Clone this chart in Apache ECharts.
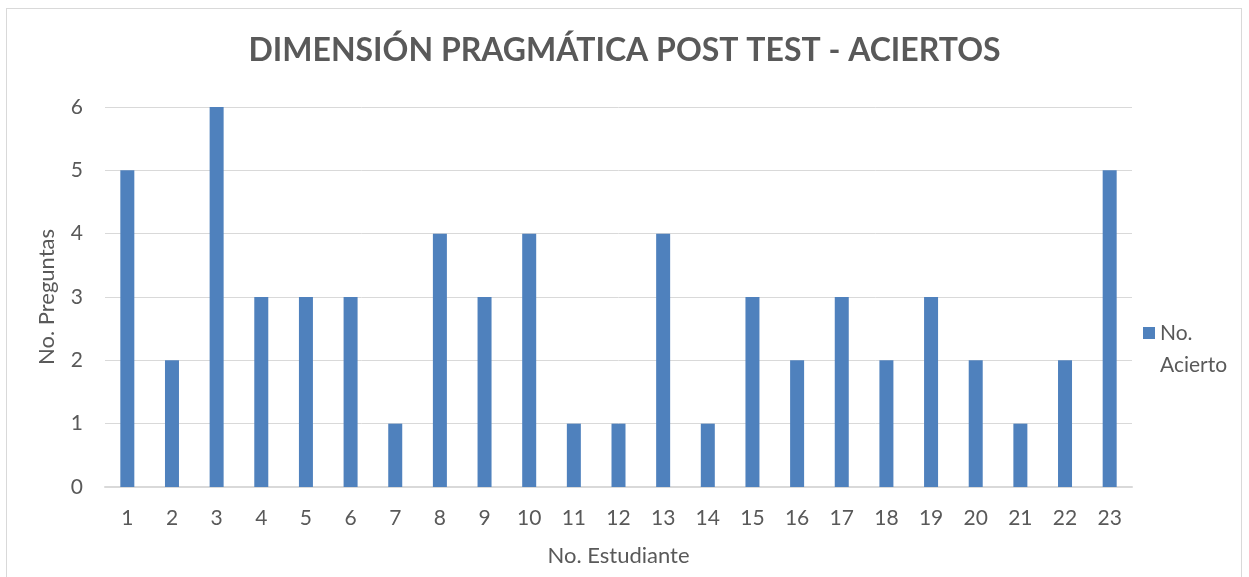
<!DOCTYPE html>
<html>
<head>
<meta charset="utf-8">
<script src="https://cdn.jsdelivr.net/npm/echarts@6/dist/echarts.min.js"></script>
<style>
  html, body { margin: 0; padding: 0; background: #fff; }
  #chart { width: 1249px; height: 577px; }
  .frame { position: absolute; left: 6px; top: 8px; width: 1236px; height: 600px; border: 1px solid #d9d9d9; box-sizing: border-box; pointer-events: none; }
</style>
</head>
<body>
<div id="chart"></div>
<div class="frame"></div>
<script>
const students = ['1', '2', '3', '4', '5', '6', '7', '8', '9', '10', '11', '12', '13', '14', '15', '16', '17', '18', '19', '20', '21', '22', '23']
const aciertos = [5, 2, 6, 3, 3, 3, 1, 4, 3, 4, 1, 1, 4, 1, 3, 2, 3, 2, 3, 2, 1, 2, 5]
const seriesName = 'No.\nAcierto'

const chart = echarts.init(document.getElementById('chart'))
const font = 'Lato, "Open Sans", sans-serif'
chart.setOption({
    animation: false,
    title: {
        text: 'DIMENSIÓN PRAGMÁTICA POST TEST - ACIERTOS',
        left: 'center',
        top: 30,
        textStyle: { fontFamily: font, fontSize: 32, fontWeight: 'bold', color: '#595959' },
    },
    // square drawn at the top of a taller (empty) icon box so it lines up with "No."
    legend: {
        data: [seriesName],
        left: 1138,
        top: 312,
        icon: 'path://M0,0H12V12H0Z M0,44L0.01,44',
        itemWidth: 12,
        itemHeight: 44,
        itemGap: 6,
        textStyle: { fontFamily: font, fontSize: 21, color: '#595959', lineHeight: 32 },
    },
    grid: { left: 105, right: 117, top: 107, bottom: 90, containLabel: false },
    xAxis: {
        type: 'category',
        data: students,
        name: 'No. Estudiante',
        nameLocation: 'middle',
        nameGap: 58,
        nameTextStyle: { fontFamily: font, fontSize: 22, color: '#595959' },
        axisLine: { lineStyle: { color: '#d9d9d9', width: 2 } },
        axisTick: { show: false },
        axisLabel: { fontFamily: font, fontSize: 21, color: '#595959', margin: 21 },
    },
    yAxis: {
        type: 'value',
        min: 0,
        max: 6,
        interval: 1,
        name: 'No. Preguntas',
        nameLocation: 'middle',
        nameGap: 47,
        nameTextStyle: { fontFamily: font, fontSize: 22, color: '#595959' },
        axisLine: { show: false },
        axisTick: { show: false },
        axisLabel: { fontFamily: font, fontSize: 21, color: '#595959', margin: 22 },
        splitLine: { lineStyle: { color: '#d9d9d9', width: 1 } },
    },
    series: [
        {
            name: seriesName,
            type: 'bar',
            data: aciertos,
            barWidth: 14,
            itemStyle: { color: '#4f81bd' },
        },
    ],
})
</script>
</body>
</html>
